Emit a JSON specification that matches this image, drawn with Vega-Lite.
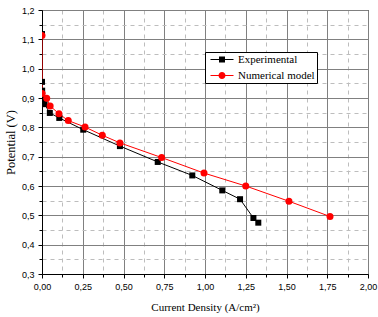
{
  "$schema": "https://vega.github.io/schema/vega-lite/v6.json",
  "width": 326,
  "height": 264,
  "autosize": {"type": "none"},
  "padding": {"left": 42, "top": 10, "right": 10, "bottom": 43},
  "background": "white",
  "config": {
    "view": {"stroke": "black", "strokeWidth": 1},
    "axis": {
      "domainColor": "black",
      "tickColor": "black",
      "labelColor": "black",
      "titleColor": "black",
      "labelFont": "Liberation Sans",
      "labelFontSize": 9,
      "titleFont": "Liberation Serif",
      "titleFontSize": 11,
      "titleFontWeight": "normal"
    },
    "legend": {
      "orient": "none", "legendX": 163, "legendY": 42, "title": null,
      "strokeColor": "black", "fillColor": "white", "padding": 2,
      "labelFont": "Liberation Serif", "labelFontSize": 11, "labelColor": "black",
      "symbolSize": 100, "labelOffset": 20, "rowPadding": 4, "symbolStrokeWidth": 0
    }
  },
  "data": {
    "values": [
      {"series": "Experimental", "x": 0.0, "y": 1.118},
      {"series": "Experimental", "x": 0.0, "y": 0.955},
      {"series": "Experimental", "x": 0.001, "y": 0.925},
      {"series": "Experimental", "x": 0.003, "y": 0.897},
      {"series": "Experimental", "x": 0.016, "y": 0.879},
      {"series": "Experimental", "x": 0.048, "y": 0.849},
      {"series": "Experimental", "x": 0.106, "y": 0.832},
      {"series": "Experimental", "x": 0.253, "y": 0.792},
      {"series": "Experimental", "x": 0.478, "y": 0.736},
      {"series": "Experimental", "x": 0.71, "y": 0.682},
      {"series": "Experimental", "x": 0.922, "y": 0.636},
      {"series": "Experimental", "x": 1.106, "y": 0.585},
      {"series": "Experimental", "x": 1.215, "y": 0.555},
      {"series": "Experimental", "x": 1.297, "y": 0.491},
      {"series": "Experimental", "x": 1.327, "y": 0.475},
      {"series": "Numerical model", "x": 0.0, "y": 1.113},
      {"series": "Numerical model", "x": 0.001, "y": 0.915},
      {"series": "Numerical model", "x": 0.029, "y": 0.899},
      {"series": "Numerical model", "x": 0.05, "y": 0.873},
      {"series": "Numerical model", "x": 0.104, "y": 0.846},
      {"series": "Numerical model", "x": 0.161, "y": 0.823},
      {"series": "Numerical model", "x": 0.264, "y": 0.801},
      {"series": "Numerical model", "x": 0.37, "y": 0.773},
      {"series": "Numerical model", "x": 0.478, "y": 0.747},
      {"series": "Numerical model", "x": 0.734, "y": 0.697},
      {"series": "Numerical model", "x": 0.994, "y": 0.644},
      {"series": "Numerical model", "x": 1.25, "y": 0.6},
      {"series": "Numerical model", "x": 1.515, "y": 0.548},
      {"series": "Numerical model", "x": 1.767, "y": 0.496}
    ]
  },
  "layer": [
    {
      "mark": {"type": "line", "strokeWidth": 1, "clip": true},
      "encoding": {
        "x": {
          "field": "x", "type": "quantitative",
          "scale": {"domain": [0, 2], "nice": false, "zero": false},
          "axis": {
            "orient": "bottom", "title": null, "labels": false, "domain": false,
            "values": [0.125, 0.375, 0.625, 0.875, 1.125, 1.375, 1.625, 1.875],
            "grid": true, "gridColor": "#bdbdbd", "gridDash": [4, 4], "gridWidth": 1,
            "tickSize": 3
          }
        },
        "y": {
          "field": "y", "type": "quantitative",
          "scale": {"domain": [0.3, 1.2], "nice": false, "zero": false},
          "axis": {
            "orient": "left", "title": null, "labels": false, "domain": false,
            "values": [0.35, 0.45, 0.55, 0.65, 0.75, 0.85, 0.95, 1.05, 1.15],
            "grid": true, "gridColor": "#bdbdbd", "gridDash": [4, 4], "gridWidth": 1,
            "tickSize": 3
          }
        },
        "color": {
          "field": "series", "type": "nominal",
          "scale": {"domain": ["Experimental", "Numerical model"], "range": ["black", "red"]},
          "legend": {
            "symbolType": "M-0.4,-0.1H4.2V0.1H-0.4Z",
            "encode": {
              "symbols": {
                "update": {
                  "shape": {"signal": "datum.value === 'Experimental' ? 'M-0.4,-0.1H4.2V0.1H-0.4Z M1.3,-0.6H2.5V0.6H1.3Z' : 'M-0.4,-0.1H4.2V0.1H-0.4Z M2.6,0 A0.7,0.7 0 1,1 1.2,0 A0.7,0.7 0 1,1 2.6,0Z'"},
                  "fill": {"scale": "color", "field": "value"},
                  "stroke": {"value": "transparent"},
                  "strokeWidth": {"value": 0},
                  "opacity": {"value": 1}
                }
              }
            }
          }
        }
      }
    },
    {
      "transform": [{"filter": "datum.series === 'Experimental'"}],
      "mark": {"type": "square", "color": "black", "size": 36, "opacity": 1, "clip": true},
      "encoding": {
        "x": {
          "field": "x", "type": "quantitative",
          "scale": {"domain": [0, 2], "nice": false, "zero": false},
          "axis": {
            "orient": "bottom", "title": "Current Density (A/cm²)",
            "values": [0, 0.25, 0.5, 0.75, 1, 1.25, 1.5, 1.75, 2],
            "labelExpr": "replace(format(datum.value, '.2f'), '.', ',')",
            "grid": true, "gridColor": "#808080", "gridWidth": 1,
            "tickSize": 4, "labelPadding": 4, "titlePadding": 10,
            "labelFlush": false, "labelOverlap": false
          }
        },
        "y": {
          "field": "y", "type": "quantitative",
          "scale": {"domain": [0.3, 1.2], "nice": false, "zero": false},
          "axis": {
            "orient": "left", "title": "Potential (V)", "titleFontSize": 12.5,
            "values": [0.3, 0.4, 0.5, 0.6, 0.7, 0.8, 0.9, 1.0, 1.1, 1.2],
            "labelExpr": "replace(format(datum.value, '.1f'), '.', ',')",
            "grid": true, "gridColor": "#808080", "gridWidth": 1,
            "tickSize": 4, "labelPadding": 4, "titlePadding": 4,
            "labelFlush": false, "labelOverlap": false
          }
        }
      }
    },
    {
      "transform": [{"filter": "datum.series === 'Numerical model'"}],
      "mark": {"type": "circle", "color": "red", "size": 49, "opacity": 1, "clip": true},
      "encoding": {
        "x": {"field": "x", "type": "quantitative", "axis": null},
        "y": {"field": "y", "type": "quantitative", "axis": null}
      }
    }
  ],
  "resolve": {"axis": {"x": "independent", "y": "independent"}}
}
